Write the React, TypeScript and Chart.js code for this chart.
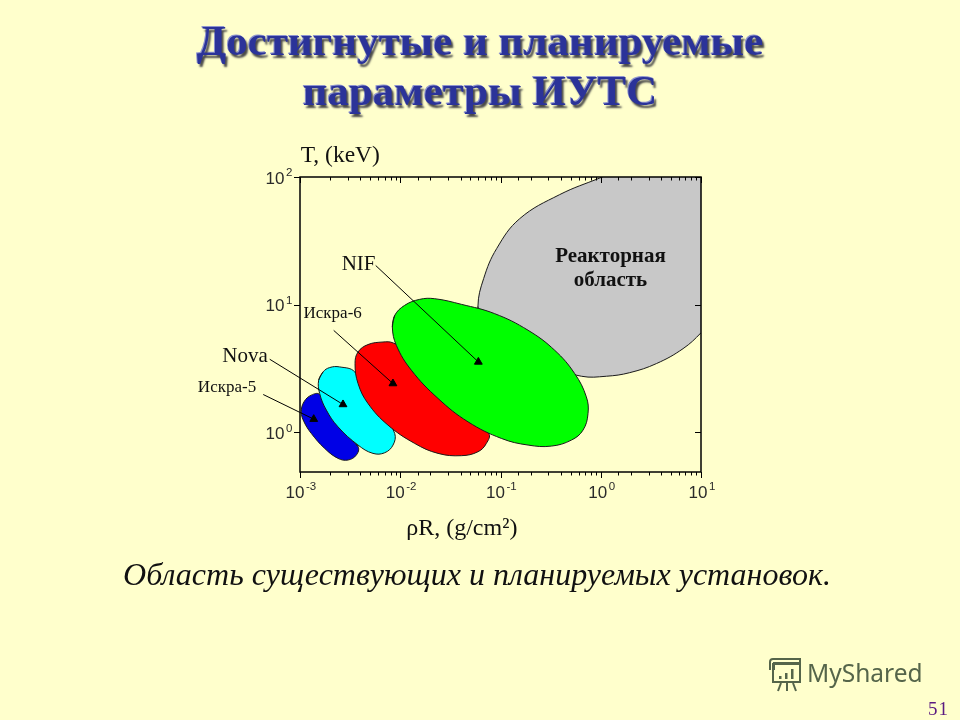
import React, { useEffect, useRef } from "react";
import { Chart, registerables } from "chart.js";

Chart.register(...registerables);

const SERIF = '"Liberation Serif", "DejaVu Serif", serif';
const SANS = '"Liberation Sans", Arial, sans-serif';

// Region outlines as [log10 rhoR (g/cm2), log10 T (keV)].
const reactorRegion = [
  [-1.18, 0.75], [-1.225, 0.987], [-1.168, 1.205], [-1.038, 1.44], [-0.808, 1.674], [-0.41, 1.862],
  [-0.01, 1.992], [0.256, 2.075], [0.688, 2.114], [1.22, 2.101], [1.453, 1.659], [1.353, 1.085],
  [1.001, 0.781], [0.821, 0.656], [0.555, 0.539], [0.289, 0.468], [0.056, 0.44], [-0.193, 0.44],
  [-0.509, 0.52], [-0.9, 0.6],
];
const nifRegion = [
  [-2.079, 0.826], [-2.055, 0.917], [-1.956, 0.995], [-1.806, 1.042], [-1.656, 1.047], [-1.39, 1.003],
  [-1.058, 0.93], [-0.725, 0.8], [-0.459, 0.643], [-0.26, 0.461], [-0.144, 0.279], [-0.127, 0.148],
  [-0.177, 0.018], [-0.293, -0.06], [-0.493, -0.107], [-0.725, -0.099], [-0.991, -0.047], [-1.324, 0.083],
  [-1.623, 0.266], [-1.889, 0.487], [-2.039, 0.682],
];
const iskra6Region = [
  [-1.5, 0.3], [-1.118, -0.008], [-1.141, -0.086], [-1.224, -0.151], [-1.39, -0.182], [-1.623, -0.164],
  [-1.856, -0.086], [-2.122, 0.057], [-2.322, 0.227], [-2.421, 0.383], [-2.451, 0.539],
  [-2.421, 0.63], [-2.322, 0.688], [-2.172, 0.708], [-2.072, 0.701], [-1.85, 0.6],
];
const novaRegion = [
  [-2.814, 0.409], [-2.77, 0.474], [-2.704, 0.508], [-2.604, 0.513], [-2.454, 0.474], [-2.338, 0.279],
  [-2.155, 0.109], [-2.055, -0.008], [-2.072, -0.099], [-2.155, -0.159], [-2.272, -0.164], [-2.421, -0.099],
  [-2.621, 0.044], [-2.737, 0.175], [-2.804, 0.305],
];
const iskra5Region = [
  [-2.621, 0.07], [-2.421, -0.112],
  [-2.438, -0.177], [-2.521, -0.216], [-2.621, -0.203], [-2.754, -0.125], [-2.887, -0.008], [-2.96, 0.083],
  [-2.987, 0.161], [-2.96, 0.24], [-2.887, 0.292], [-2.804, 0.297],
];

// Leader arrows: label end, then the arrowhead.
const nifArrow = [[-2.245, 1.307], [-1.221, 0.552]];
const iskra6Arrow = [[-2.664, 0.799], [-2.073, 0.383]];
const novaArrow = [[-3.302, 0.573], [-2.571, 0.219]];
const iskra5Arrow = [[-3.367, 0.297], [-2.863, 0.104]];

const xRange = [0.001, 10];
const yRange = [0.49, 100];
const tickBase = "10";
const xTickExponents = ["-3", "-2", "-1", "0", "1"];
const yTickExponents = ["0", "1", "2"];

const titleLines = ["Достигнутые и планируемые", "параметры ИУТС"];
const captionText = "Область существующих и планируемых установок.";
const pageNumber = "51";
const watermark = "MyShared";

const annotations = [
  { text: "Реакторная", at: [0.097, 1.38], font: `bold 21px ${SERIF}` },
  { text: "область", at: [0.097, 1.19], font: `bold 21px ${SERIF}` },
  { text: "NIF", at: [-2.416, 1.3125], font: `21px ${SERIF}` },
  { text: "Искра-6", at: [-2.674, 0.93], font: `17px ${SERIF}` },
  { text: "Nova", at: [-3.549, 0.596], font: `21px ${SERIF}` },
  { text: "Искра-5", at: [-3.728, 0.352], font: `17px ${SERIF}` },
  { text: "T, (keV)", at: [-2.598, 2.167], font: `23.5px ${SERIF}` },
  { text: "ρR, (g/cm²)", at: [-1.386, -0.75], font: `24px ${SERIF}` },
];

const toPoints = (pairs: number[][]) => pairs.map(([a, b]) => ({ x: Math.pow(10, a), y: Math.pow(10, b) }));
// Closed outline: run past the start so the spline is smooth where the loop meets.
const closed = (pairs: number[][]) => [...pairs, pairs[0], pairs[1]];

const region = (label: string, pairs: number[][], color: string, order: number) => ({
  label,
  data: toPoints(closed(pairs)),
  showLine: true,
  fill: "shape",
  backgroundColor: color,
  borderColor: "#1a1a1a",
  borderWidth: 1,
  tension: 0.4,
  pointRadius: 0,
  order,
});

const arrow = (label: string, pairs: number[][]) => ({
  label,
  data: toPoints(pairs),
  showLine: true,
  fill: false,
  clip: false,
  borderColor: "#000",
  backgroundColor: "#000",
  borderWidth: 1,
  pointStyle: "triangle",
  pointRadius: [0, 4.5],
  pointBackgroundColor: "#000",
  pointBorderColor: "#000",
  order: 0,
});

const isDecade = (v: number) => Math.abs(Math.log10(v) - Math.round(Math.log10(v))) < 1e-6;

const framePlugin = {
  id: "frame",
  afterDatasetsDraw(chart: any) {
    const { ctx, chartArea: a, scales } = chart;
    ctx.save();
    ctx.strokeStyle = "#000";
    ctx.lineWidth = 1.5;
    ctx.strokeRect(a.left, a.top, a.right - a.left, a.bottom - a.top);
    ctx.lineWidth = 1;
    ctx.beginPath();
    scales.x.ticks.forEach((t: any) => {
      if (t.value < xRange[0] || t.value > xRange[1]) return;
      const p = Math.round(scales.x.getPixelForValue(t.value)) + 0.5;
      const len = isDecade(t.value) ? 6 : 3.5;
      ctx.moveTo(p, a.top);
      ctx.lineTo(p, a.top + len);
      ctx.moveTo(p, a.bottom);
      ctx.lineTo(p, a.bottom + len);
    });
    scales.y.ticks.forEach((t: any) => {
      if (!isDecade(t.value)) return;
      const p = Math.round(scales.y.getPixelForValue(t.value)) + 0.5;
      ctx.moveTo(a.left, p);
      ctx.lineTo(a.left - 6, p);
      ctx.moveTo(a.right, p);
      ctx.lineTo(a.right - 6, p);
    });
    ctx.stroke();
    ctx.restore();
  },
  afterDraw(chart: any) {
    const { ctx, chartArea: a, scales } = chart;
    ctx.save();
    ctx.fillStyle = "#111";
    ctx.textAlign = "center";
    ctx.textBaseline = "middle";
    annotations.forEach(({ text, at, font }) => {
      ctx.font = font;
      ctx.fillText(text, scales.x.getPixelForValue(Math.pow(10, at[0])), scales.y.getPixelForValue(Math.pow(10, at[1])));
    });
    // Decade tick labels: a base with a raised, smaller exponent.
    ctx.textAlign = "left";
    ctx.fillStyle = "#2a2a2a";
    const baseFont = `17px ${SANS}`;
    const expFont = `11.5px ${SANS}`;
    const drawLabel = (left: number, midY: number, exp: string) => {
      ctx.font = baseFont;
      ctx.fillText(tickBase, left, midY);
      const w = ctx.measureText(tickBase).width;
      ctx.font = expFont;
      ctx.fillText(exp, left + w + 1.5, midY - 6);
    };
    xTickExponents.forEach((exp) => {
      const p = scales.x.getPixelForValue(Math.pow(10, Number(exp)));
      drawLabel(p - (exp.startsWith("-") ? 14.5 : 12.5), a.bottom + 21, exp);
    });
    yTickExponents.forEach((exp) => {
      const p = scales.y.getPixelForValue(Math.pow(10, Number(exp)));
      drawLabel(a.left - 34.5, p + 2, exp);
    });
    ctx.restore();
  },
};

export default function App() {
  const ref = useRef<HTMLCanvasElement>(null);
  useEffect(() => {
    document.body.style.margin = "0";
    document.body.style.background = "#ffffcc";
    const chart = new Chart(ref.current as HTMLCanvasElement, {
      type: "scatter",
      data: {
        datasets: [
          arrow("NIF arrow", nifArrow),
          arrow("Искра-6 arrow", iskra6Arrow),
          arrow("Nova arrow", novaArrow),
          arrow("Искра-5 arrow", iskra5Arrow),
          region("NIF", nifRegion, "#00ff00", 1),
          region("Искра-6", iskra6Region, "#ff0000", 2),
          region("Nova", novaRegion, "#00ffff", 3),
          region("Искра-5", iskra5Region, "#0000e6", 4),
          region("Реакторная область", reactorRegion, "#c8c8c8", 5),
        ] as any,
      },
      plugins: [framePlugin],
      options: {
        animation: false,
        responsive: false,
        devicePixelRatio: 1,
        events: [],
        layout: { padding: { left: 300, right: 259, top: 177, bottom: 248 } },
        plugins: { legend: { display: false }, tooltip: { enabled: false }, title: { display: false } },
        scales: {
          x: {
            type: "logarithmic",
            min: xRange[0],
            max: xRange[1],
            grid: { display: false },
            border: { display: false },
            afterFit(s: any) { s.height = 0; },
            ticks: { display: false, autoSkip: false },
          },
          y: {
            type: "logarithmic",
            min: yRange[0],
            max: yRange[1],
            grid: { display: false },
            border: { display: false },
            afterFit(s: any) { s.width = 0; },
            ticks: { display: false, autoSkip: false },
          },
        },
      } as any,
    });
    return () => chart.destroy();
  }, []);

  const titleStyle: React.CSSProperties = {
    position: "absolute",
    left: 0,
    width: 960,
    textAlign: "center",
    fontFamily: SERIF,
    fontWeight: "bold",
    fontSize: 43,
    lineHeight: "50px",
    color: "#2b3399",
    textShadow: "2px 3px 2px #4a4a4a, -1px -1px 0 #8f95cf",
    whiteSpace: "nowrap",
  };

  return (
    <div style={{ position: "absolute", left: 0, top: 0, width: 960, height: 720, background: "#ffffcc", overflow: "hidden" }}>
      <canvas ref={ref} width={960} height={720} style={{ position: "absolute", left: 0, top: 0, display: "block" }} />
      <div style={{ ...titleStyle, top: 16 }}>{titleLines[0]}</div>
      <div style={{ ...titleStyle, top: 66 }}>{titleLines[1]}</div>
      <div
        style={{
          position: "absolute",
          left: 0,
          width: 954,
          top: 554,
          textAlign: "center",
          fontFamily: SERIF,
          fontStyle: "italic",
          fontSize: 32,
          lineHeight: "40px",
          color: "#111",
          whiteSpace: "nowrap",
        }}
      >
        {captionText}
      </div>
      <svg style={{ position: "absolute", left: 767, top: 657 }} width={36} height={36} viewBox="0 0 36 36" fill="none" stroke="#55654a" strokeWidth={2}>
        <path d="M3 13 V5 Q3 2 6 2 H33 V6 H7 V13" />
        <rect x={6} y={7} width={27} height={18} />
        <rect x={12} y={19} width={2.5} height={3} fill="#55654a" stroke="none" />
        <rect x={18} y={16} width={2.5} height={6} fill="#55654a" stroke="none" />
        <rect x={24} y={12} width={2.5} height={10} fill="#55654a" stroke="none" />
        <path d="M14 26 L11 34 M20 26 V34 M26 26 L29 34" />
      </svg>
      <div
        style={{
          position: "absolute",
          left: 807,
          top: 655,
          fontFamily: '"Noto Sans", sans-serif',
          fontSize: 24.5,
          lineHeight: "36px",
          color: "#55654a",
          whiteSpace: "nowrap",
        }}
      >
        {watermark}
      </div>
      <div
        style={{
          position: "absolute",
          left: 928,
          top: 698,
          fontFamily: SERIF,
          fontSize: 19,
          lineHeight: "22px",
          letterSpacing: 1,
          color: "#5a1a80",
        }}
      >
        {pageNumber}
      </div>
    </div>
  );
}
